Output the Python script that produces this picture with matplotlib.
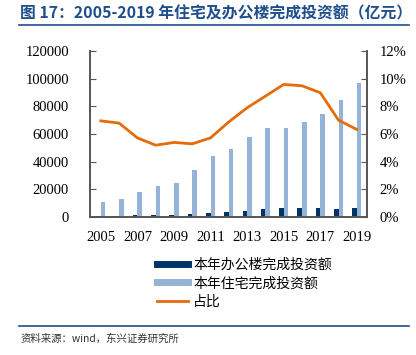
import matplotlib
matplotlib.use("Agg")
import matplotlib.pyplot as plt
import numpy as np
from matplotlib.lines import Line2D

plt.rcParams['font.family'] = ['Noto Sans CJK SC', 'DejaVu Sans']

years = list(range(2005, 2020))
# 本年住宅完成投资额 (亿元)
resid = [10600, 13300, 17900, 22200, 24900, 33600, 43900, 49500,
         57900, 64200, 64200, 68600, 74800, 84500, 96600]
# 本年办公楼完成投资额 (亿元)
office = [740, 900, 1020, 1150, 1340, 1780, 2510, 3410,
          4580, 5610, 6160, 6510, 6730, 5920, 6110]
# 占比 (%)
ratio = [6.95, 6.79, 5.72, 5.19, 5.39, 5.29, 5.72, 6.88,
         7.90, 8.74, 9.59, 9.49, 8.99, 7.00, 6.33]

navy = '#003366'
light = '#95B3D7'
orange = '#E46C0A'
gray = '#555555'
title_blue = '#1F4E8C'

fig = plt.figure(figsize=(4.16, 3.55), dpi=100)
ax = fig.add_axes([0.216, 0.389, 0.666, 0.467])
ax2 = ax.twinx()

x = np.arange(len(years))
w = 0.25
ax.bar(x - w / 2, office, width=w, color=navy, zorder=2)
ax.bar(x + w / 2, resid, width=w, color=light, zorder=2)
ax2.plot(x, ratio, color=orange, lw=2, zorder=3)

ax.set_xlim(-0.6, len(years) - 0.45)
ax.set_ylim(0, 120000)
ax.set_yticks(np.arange(0, 120001, 20000))
ax2.set_ylim(0, 12)
ax2.set_yticks(np.arange(0, 13, 2))
ax2.set_yticklabels([f'{v}%' for v in range(0, 13, 2)])
ax.set_xticks(x[::2])
ax.set_xticklabels([str(y) for y in years[::2]])

serif = 'Liberation Serif'
for a in (ax, ax2):
    for lab in a.get_yticklabels() + a.get_xticklabels():
        lab.set_fontfamily(serif)
        lab.set_fontsize(10.5)
    a.spines['top'].set_visible(False)
    for s in ('left', 'right', 'bottom'):
        a.spines[s].set_color(gray)
        a.spines[s].set_linewidth(1.2)

ax.tick_params(axis='y', direction='in', length=4, color=gray, pad=15)
ax2.tick_params(axis='y', direction='in', length=4, color=gray, pad=9)
ax.tick_params(axis='x', length=0, pad=10)

handles = [
    Line2D([], [], color=navy, lw=5),
    Line2D([], [], color=light, lw=5),
    Line2D([], [], color=orange, lw=2),
]
labels = ['本年办公楼完成投资额', '本年住宅完成投资额', '占比']
fig.legend(handles, labels, loc='upper left', bbox_to_anchor=(0.378, 0.275),
           frameon=False, fontsize=10, handlelength=2.2, handletextpad=0.4,
           labelspacing=0.35, borderaxespad=0, borderpad=0)

fig.text(0.048, 0.963, '图 17：2005-2019 年住宅及办公楼完成投资额（亿元）',
         color=title_blue, fontsize=11.4, fontweight='bold', va='center', ha='left')
fig.add_artist(Line2D([0.046, 0.982], [0.929, 0.929], color=title_blue, lw=1.2,
                      transform=fig.transFigure))
fig.add_artist(Line2D([0.046, 0.982], [0.083, 0.083], color=title_blue, lw=1.2,
                      transform=fig.transFigure))
fig.text(0.05, 0.047, '资料来源：wind，东兴证券研究所', color='#333333',
         fontsize=7.5, style='italic', va='center', ha='left')

fig.savefig('out.png', dpi=100)
